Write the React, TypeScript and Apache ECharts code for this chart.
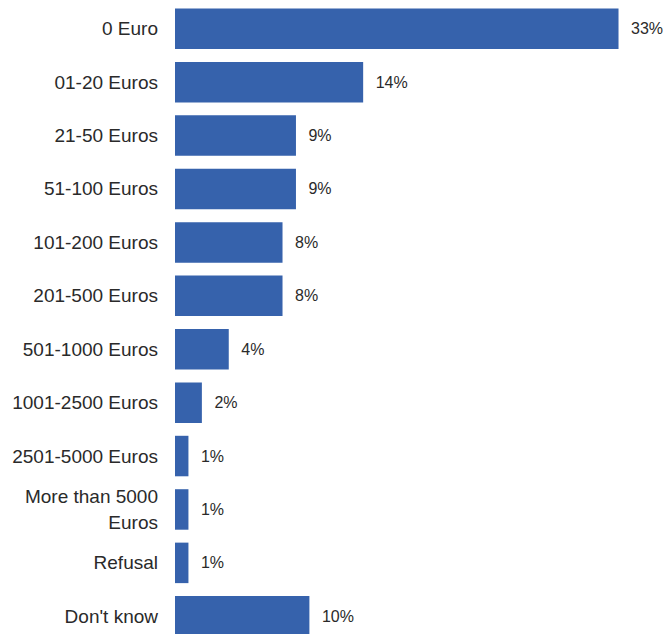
import React, { useEffect, useRef } from "react";
import * as echarts from "echarts";

const categories = [
  "0 Euro",
  "01-20 Euros",
  "21-50 Euros",
  "51-100 Euros",
  "101-200 Euros",
  "201-500 Euros",
  "501-1000 Euros",
  "1001-2500 Euros",
  "2501-5000 Euros",
  "More than 5000\nEuros",
  "Refusal",
  "Don't know",
];
const values = [33, 14, 9, 9, 8, 8, 4, 2, 1, 1, 1, 10];

export default function App() {
  const ref = useRef<HTMLDivElement>(null);
  useEffect(() => {
    if (!ref.current) return;
    const chart = echarts.init(ref.current, undefined, { renderer: "svg" });
    chart.setOption({
      animation: false,
      backgroundColor: "#ffffff",
      grid: { left: 175, top: 2, width: 470.4, height: 641 },
      xAxis: { type: "value", min: 0, max: 35, show: false },
      yAxis: {
        type: "category",
        data: categories,
        inverse: true,
        axisLine: { show: false },
        axisTick: { show: false },
        axisLabel: {
          color: "#2a2a2a",
          fontFamily: "Liberation Sans, Arial",
          fontSize: 19,
          margin: 17,
          lineHeight: 26,
          align: "right",
        },
      },
      series: [
        {
          type: "bar",
          data: values,
          barWidth: 40.5,
          itemStyle: { color: "#3662AC" },
          label: {
            show: true,
            position: "right",
            distance: 12.5,
            formatter: "{c}%",
            color: "#2a2a2a",
            fontFamily: "Liberation Sans, Arial",
            fontSize: 16,
          },
        },
      ],
    });
    return () => chart.dispose();
  }, []);
  return (
    <div
      ref={ref}
      style={{ position: "fixed", left: 0, top: 0, width: 663, height: 660, background: "#fff" }}
    />
  );
}
